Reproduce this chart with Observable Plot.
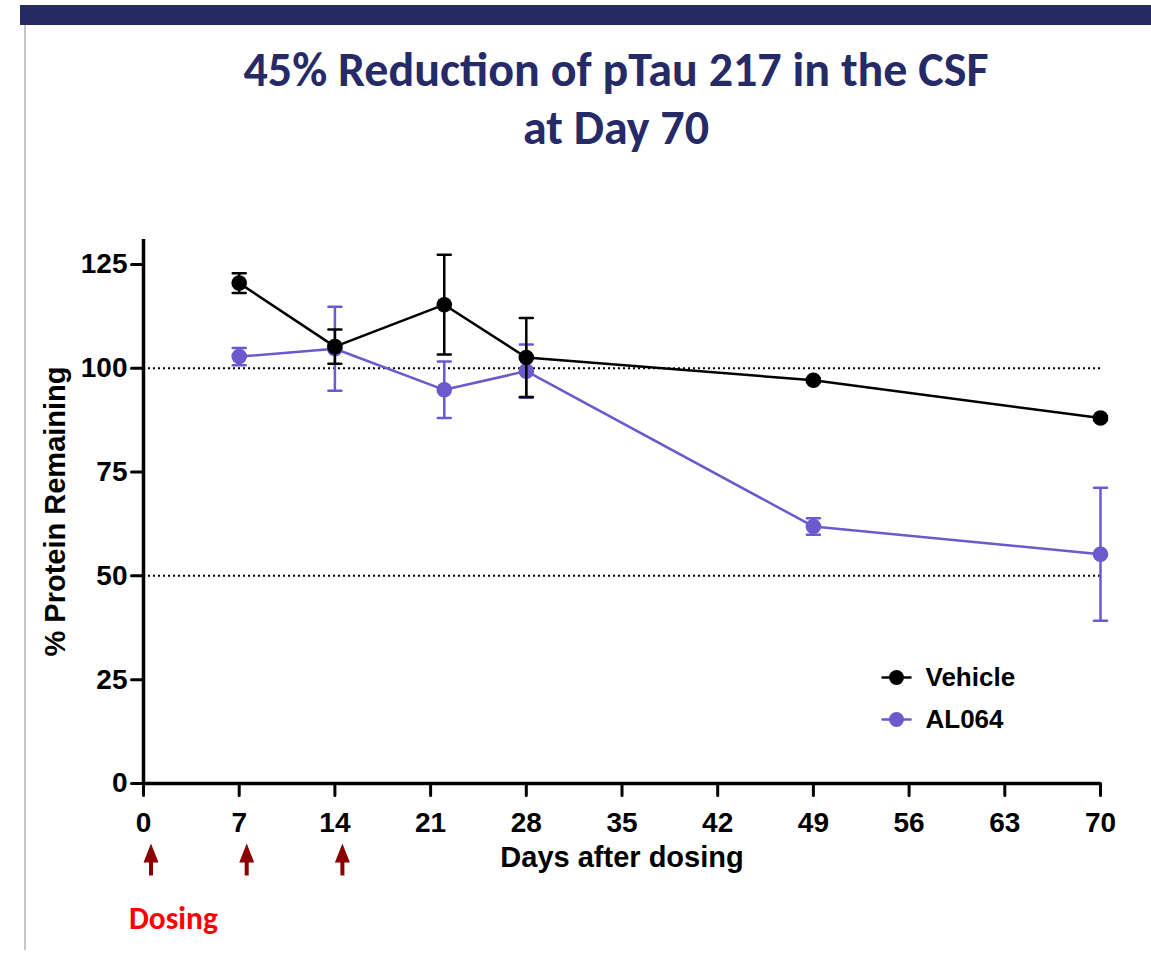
<!DOCTYPE html>
<html>
<head>
<meta charset="utf-8">
<script src="https://cdn.jsdelivr.net/npm/d3@7"></script>
<script src="https://cdn.jsdelivr.net/npm/@observablehq/plot@0.6"></script>
<style>
  html, body { margin: 0; padding: 0; background: #fff; }
  #page { position: relative; width: 1151px; height: 955px; overflow: hidden; background: #fff; }
  #topbar { position: absolute; left: 20px; top: 5px; width: 1131px; height: 20px; background: #252a64; }
  #leftrule { position: absolute; left: 24px; top: 25px; width: 2px; height: 925px; background: #c8c8c8; }
  #title { position: absolute; left: 191px; top: 41px; width: 850px; text-align: center;
           font-family: Carlito, Lato, "Open Sans", sans-serif; font-weight: 700; font-size: 48px;
           line-height: 58px; color: #262a66; }
  #chart { position: absolute; left: 0; top: 200px; }
  #dosing { position: absolute; left: 129px; top: 902px; font-family: Carlito, Lato, sans-serif;
            font-weight: 700; font-size: 31.5px; line-height: 32px; color: #ff0000; }
</style>
</head>
<body>
<div id="page">
  <div id="topbar"></div>
  <div id="leftrule"></div>
  <div id="title">45% Reduction of pTau 217 in the CSF<br>at Day 70</div>
  <div id="chart"></div>
  <div id="dosing">Dosing</div>
</div>
<script>
// Sampling days and group summaries (mean ± error, % protein remaining)
const days = [7, 14, 22, 28, 49, 70];
const seriesNames = ["Vehicle", "AL064"];
const seriesColors = ["#000000", "#6a5acd"];
const vehicleMean = [120.5, 105.2, 115.3, 102.6, 97.1, 88.0];
const vehicleErr = [2.4, 4.1, 12.0, 9.5, 0.5, 0.5];
const al064Mean = [102.8, 104.7, 94.8, 99.3, 61.9, 55.2];
const al064Err = [2.1, 10.1, 6.8, 6.4, 2.0, 16.0];

// Axis ticks, reference levels and dose administration days
const xTicks = [0, 7, 14, 21, 28, 35, 42, 49, 56, 63, 70];
const yTicks = [0, 25, 50, 75, 100, 125];
const refLevels = [100, 50];
const dosingDays = [0, 7, 14];

const means = [vehicleMean, al064Mean];
const errs = [vehicleErr, al064Err];
const rows = seriesNames.flatMap((name, s) =>
  days.map((day, i) => ({series: name, day, mean: means[s][i], err: errs[s][i]}))
);

// Filled upward arrow (head + shaft) used to flag dosing days
const arrowSymbol = {
  draw(ctx, size) {
    const k = Math.sqrt(size / Math.PI) / 16;
    ctx.moveTo(0, -16 * k);
    ctx.lineTo(7.5 * k, 3 * k);
    ctx.lineTo(2 * k, 3 * k);
    ctx.lineTo(2 * k, 16 * k);
    ctx.lineTo(-2 * k, 16 * k);
    ctx.lineTo(-2 * k, 3 * k);
    ctx.lineTo(-7.5 * k, 3 * k);
    ctx.closePath();
  }
};

const font = "'Liberation Sans', Arial, Helvetica, sans-serif";

// Draw AL064 first so that Vehicle sits on top
const order = [1, 0];
const seriesMarks = order.flatMap((s) => {
  const data = rows.filter((d) => d.series === seriesNames[s]);
  const color = seriesColors[s];
  return [
    Plot.line(data, {x: "day", y: "mean", stroke: color, strokeWidth: 2.5}),
    Plot.ruleX(data, {x: "day", y1: (d) => d.mean - d.err, y2: (d) => d.mean + d.err, stroke: color, strokeWidth: 2.5}),
    Plot.vector(data, {x: "day", y: (d) => d.mean + d.err, length: 13, rotate: 90, anchor: "middle", r: 0, stroke: color, strokeWidth: 2.5}),
    Plot.vector(data, {x: "day", y: (d) => d.mean - d.err, length: 13, rotate: 90, anchor: "middle", r: 0, stroke: color, strokeWidth: 2.5}),
    Plot.dot(data, {x: "day", y: "mean", r: 7.8, fill: color, stroke: "none"})
  ];
});

// Legend entries (line + marker + name) inside the frame
const legendMarks = seriesNames.flatMap((name, i) => [
  Plot.vector([name], {frameAnchor: "top-left", dx: 753, dy: 438 + 42 * i, length: 28, rotate: 90, anchor: "middle", r: 0, stroke: seriesColors[i], strokeWidth: 2.5}),
  Plot.dot([name], {frameAnchor: "top-left", dx: 753, dy: 438 + 42 * i, r: 7.5, fill: seriesColors[i], stroke: "none"}),
  Plot.text([name], {frameAnchor: "top-left", dx: 782, dy: 438 + 42 * i, text: (d) => d, textAnchor: "start", lineAnchor: "middle", fontSize: 26, fontWeight: "bold", fill: "#000"})
]);

// Axes: lines, outward ticks and bold tick labels
const axisMarks = [
  Plot.ruleX([0], {stroke: "#000", strokeWidth: 3.5}),
  Plot.ruleY([0], {stroke: "#000", strokeWidth: 3.5}),
  Plot.vector(xTicks, {x: (d) => d, y: () => 0, length: 12, rotate: 180, anchor: "start", r: 0, stroke: "#000", strokeWidth: 3}),
  Plot.vector(yTicks, {x: () => 0, y: (d) => d, length: 12, rotate: 270, anchor: "start", r: 0, stroke: "#000", strokeWidth: 3}),
  Plot.text(xTicks, {x: (d) => d, y: () => 0, dy: 40, text: (d) => String(d), textAnchor: "middle", lineAnchor: "middle", fontSize: 28, fontWeight: "bold", fill: "#000"}),
  Plot.text(yTicks, {x: () => 0, y: (d) => d, dx: -16, text: (d) => String(d), textAnchor: "end", lineAnchor: "middle", fontSize: 28, fontWeight: "bold", fill: "#000"}),
  Plot.text(["% Protein Remaining"], {frameAnchor: "left", dx: -88, rotate: -90, textAnchor: "middle", lineAnchor: "middle", text: (d) => d, fontSize: 29, fontWeight: "bold", fill: "#000"}),
  Plot.text(["Days after dosing"], {frameAnchor: "bottom", dy: 74, textAnchor: "middle", lineAnchor: "middle", text: (d) => d, fontSize: 29, fontWeight: "bold", fill: "#000"})
];

const chart = Plot.plot({
  width: 1151,
  height: 700,
  marginLeft: 143,
  marginRight: 51,
  marginTop: 39,
  marginBottom: 117,
  x: {domain: [0, 70], axis: null},
  y: {domain: [0, 131], axis: null},
  style: {fontFamily: font, fontWeight: "bold", color: "#000", background: "transparent", overflow: "visible"},
  marks: [
    Plot.ruleY(refLevels, {stroke: "#000", strokeWidth: 2, strokeDasharray: "2,3"}),
    ...axisMarks,
    ...seriesMarks,
    ...legendMarks,
    Plot.dot(dosingDays, {x: (d) => d, y: () => 0, dx: 7.5, dy: 76, symbol: arrowSymbol, r: 16, fill: "#8b0000", stroke: "none"})
  ]
});

document.getElementById("chart").appendChild(chart);
</script>
</body>
</html>
